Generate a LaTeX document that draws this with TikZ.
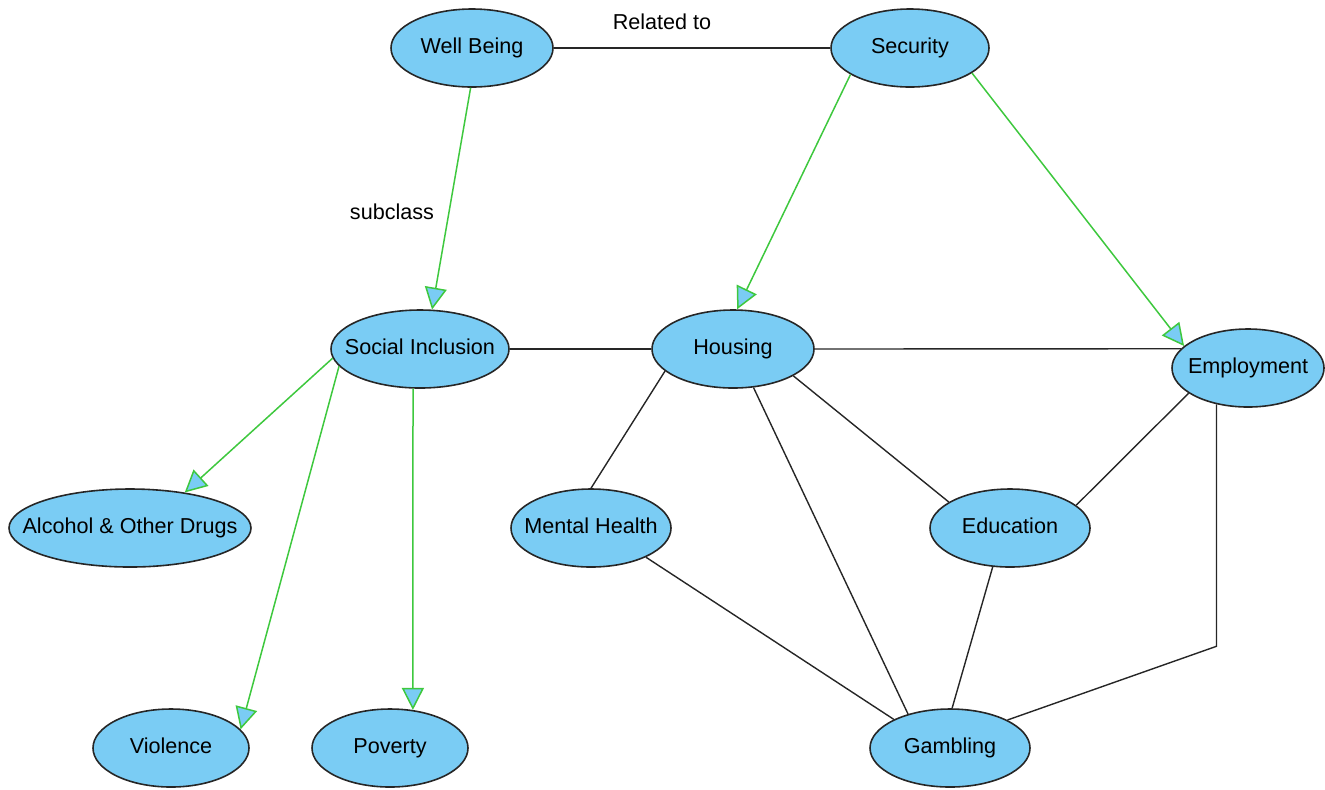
\documentclass[tikz,border=0pt]{standalone}
\usepackage{fontspec}
\setmainfont{Liberation Sans}
\usetikzlibrary{arrows.meta,shapes.geometric}
\definecolor{nodeblue}{RGB}{122,204,244}
\definecolor{subgreen}{RGB}{62,200,62}
\newcommand{\tp}[1]{\makebox[0pt]{#1}}
\tikzset{>=latex,
    topic/.style={ellipse, draw=black!85, fill=nodeblue, line width=0.8pt,
        minimum height=39pt, inner sep=0pt, text height=7.8pt, text depth=2.2pt,
        font=\fontsize{10.8}{12}\selectfont},
    assoc/.style={draw=black!85, line width=0.7pt},
    subclass/.style={draw=subgreen, line width=0.75pt,
        -{Triangle[width=11pt, length=11pt, fill=nodeblue]}},
    lbl/.style={font=\fontsize{10.8}{12}\selectfont}}

\begin{document}
\begin{tikzpicture}[x=0.5pt, y=-0.5pt]
    \useasboundingbox (0,0) rectangle (1325,789);
    \node[topic, minimum width=81pt] at (472, 48) (wb) {\tp{Well Being}};
    \node[topic, minimum width=79pt] at (910, 48) (sec) {\tp{Security}};
    \node[topic, minimum width=89pt] at (420, 349) (si) {\tp{Social Inclusion}};
    \node[topic, minimum width=81pt] at (733, 349) (hous) {\tp{Housing}};
    \node[topic, minimum width=76pt] at (1248, 368) (empl) {\tp{Employment}};
    \node[topic, minimum width=121pt] at (130, 528) (aod) {\tp{Alcohol \& Other Drugs}};
    \node[topic, minimum width=80pt] at (591, 528) (mh) {\tp{Mental Health}};
    \node[topic, minimum width=80pt] at (1010, 528) (edu) {\tp{Education}};
    \node[topic, minimum width=78pt] at (171, 748) (viol) {\tp{Violence}};
    \node[topic, minimum width=78pt] at (390, 748) (pov) {\tp{Poverty}};
    \node[topic, minimum width=80pt] at (950, 748) (gam) {\tp{Gambling}};
    \node[lbl] at (662, 22) (relto) {Related to};
    \node[lbl] at (392, 212) (sublbl) {subclass};
    % subclass arrows
    \draw[subclass] (wb.-92) -- (si.73);
    \draw[subclass] (sec.204) -- (hous.84);
    \draw[subclass] (sec.338) -- (empl.161);
    \draw[subclass] (si.186) -- (aod.33);
    \draw[subclass] (si.192) -- (viol.15);
    \draw[subclass] (si.260) -- (pov.59);
    % associations
    \draw[assoc] (wb.east) -- (sec.west);
    \draw[assoc] (si.east) -- (hous.west);
    \draw[assoc] (hous.east) -- (empl.164);
    \draw[assoc] (hous.198) -- (mh.north);
    \draw[assoc] (hous.298) -- (gam.141);
    \draw[assoc] (hous.336) -- (edu.157);
    \draw[assoc] (empl.203) -- (edu.19);
    \draw[assoc] (empl.229) -- ++(0,242) -- (gam.26);
    \draw[assoc] (mh.332) -- (gam.153);
    \draw[assoc] (edu.246) -- (gam.87);
  \end{tikzpicture}
\end{document}
